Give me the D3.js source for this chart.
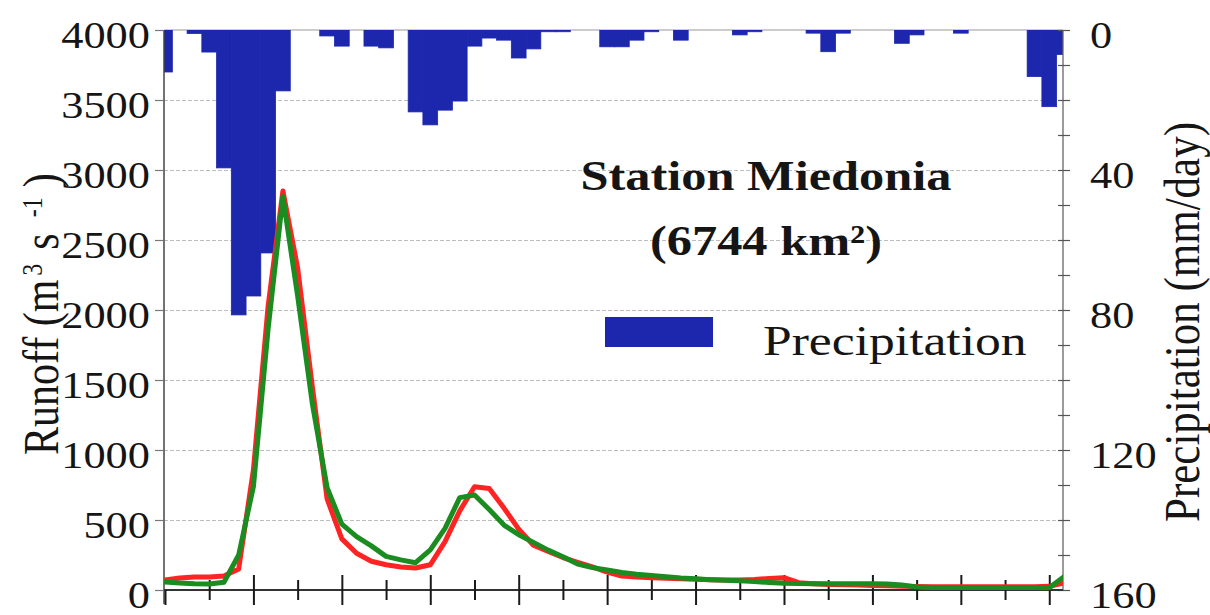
<!DOCTYPE html>
<html><head><meta charset="utf-8">
<script src="https://cdn.jsdelivr.net/npm/d3@7/dist/d3.min.js"></script>
<style>
body{margin:0;background:#fff}
svg{display:block}
text{font-family:"Liberation Serif","Times New Roman",serif;fill:#151515}
</style>
</head><body>
<svg id="chart" width="1210" height="615"></svg>
<script>
// ---------- data ----------
const days = [0,1,2,3,4,5,6,7,8,9,10,11,12,13,14,15,16,17,18,19,20,21,22,23,24,25,26,27,28,29,30,
  31,32,33,34,35,36,37,38,39,40,41,42,43,44,45,46,47,48,49,50,51,52,53,54,55,56,57,58,59,60,61];
const precipitation = [12,0,1,6.3,39.4,81.4,76,63.7,17.4,0,0,1.7,4.6,0,4.6,5.1,0,23.4,27.1,22.9,20.3,
  4.6,2.3,2.9,8,5.4,0.5,0.5,0,0,4.8,4.8,2.9,0.5,0,2.9,0,0,0,1.4,0.5,0,0,0,0.9,6.2,0.9,0,0,0,
  3.8,1.4,0,0,0.9,0,0,0,0,13.3,21.9,7];
const runoffObserved = [71,85,93,93,100,150,860,2030,2850,2300,1450,650,365,262,205,180,165,157,180,345,
  565,738,725,585,435,320,275,232,198,165,128,100,92,88,84,80,77,74,72,72,75,82,88,52,45,40,38,35,33,30,
  27,25,24,24,24,24,24,24,24,24,26,50];
const runoffSimulated = [57,50,45,43,55,250,740,1870,2810,2100,1330,730,470,381,315,240,215,195,286,440,
  660,679,575,464,395,340,285,238,185,160,143,125,112,104,95,86,80,74,69,66,60,54,48,46,44,44,44,44,44,43,
  35,22,18,18,18,18,18,18,18,18,16,95];
const runoffTicks = [0,500,1000,1500,2000,2500,3000,3500,4000];
const gridTicks = [500,1000,1500,2000,2500,3000,3500];
const precipLabelTicks = [0,40,80,120,160];
const precipMinorTicks = [0,10,20,30,40,50,60,70,80,90,100,110,120,130,140,150,160];
const dayTicks = [0,3,6,9,12,15,18,21,24,27,30,33,36,39,42,45,48,51,54,57,60];
const titleLines = ["Station Miedonia", "(6744 km²)"];
const legendLabel = "Precipitation";

// ---------- layout ----------
const svg = d3.select("#chart");
const L = 164, R = 1063, T = 30, B = 590;
const SX = 1.2; // horizontal stretch of the original figure's lettering
const x = d3.scaleLinear().domain([0, 61]).range([165, 1064]);
const yL = d3.scaleLinear().domain([0, 4000]).range([B, T]);
const yR = d3.scaleLinear().domain([0, 160]).range([T, B]);

const barColor = "#1c27ae";
const redColor = "#ff2424";
const greenColor = "#1b8c1f";
const serif = '"Liberation Serif","Times New Roman",serif';

svg.append("rect").attr("width",1210).attr("height",615).attr("fill","#fff");

svg.append("defs").append("clipPath").attr("id","plotclip")
  .append("rect").attr("x",L).attr("y",T).attr("width",R-L).attr("height",B-T+4);

// gridlines
const grid = svg.append("g").attr("transform",`translate(${L},0)`)
  .call(d3.axisLeft(yL).tickValues(gridTicks).tickSize(-(R-L)).tickFormat(""));
grid.select(".domain").remove();
grid.selectAll("line").attr("stroke","#bdbdbd").attr("stroke-width",1).attr("stroke-dasharray","4,2");

// top border
svg.append("line").attr("x1",L).attr("x2",R).attr("y1",T).attr("y2",T)
  .attr("stroke","#9a9a9a").attr("stroke-width",1.2);

// precipitation bars
svg.append("g").attr("clip-path","url(#plotclip)")
  .selectAll("rect").data(days.filter((d,i)=>precipitation[i]>0)).join("rect")
  .attr("x", d => x(d-0.5))
  .attr("width", d => x(d+0.5)-x(d-0.5))
  .attr("y", yR(0))
  .attr("height", d => yR(precipitation[d]) - yR(0))
  .attr("fill", barColor).attr("stroke", barColor).attr("stroke-width", 0.8);

// right axis line and ticks
svg.append("line").attr("x1",R).attr("x2",R).attr("y1",T).attr("y2",B)
  .attr("stroke","#666").attr("stroke-width",1.3);
const rAxis = svg.append("g").attr("transform",`translate(${R},0)`)
  .call(d3.axisRight(yR).tickValues(precipMinorTicks).tickSize(7).tickFormat(""));
rAxis.select(".domain").remove();
rAxis.selectAll("line").attr("x1",-5).attr("stroke","#555").attr("stroke-width",1.2);
const rLab = svg.append("g").attr("transform",`translate(${R},0)`)
  .call(d3.axisRight(yR).tickValues(precipLabelTicks).tickSize(0).tickPadding(0).tickFormat(d3.format("d")));
rLab.select(".domain").remove();
rLab.selectAll("text")
  .attr("x",0).attr("dy",null)
  .attr("transform", `translate(27,5) scale(${SX},1)`)
  .attr("dominant-baseline","central")
  .style("font-size","37px").style("font-family",serif).attr("fill","#151515");

// left axis
const lAxis = svg.append("g").attr("transform",`translate(${L},0)`)
  .call(d3.axisLeft(yL).tickValues(runoffTicks).tickSize(9).tickPadding(0).tickFormat(d3.format("d")));
lAxis.select(".domain").attr("stroke","#444").attr("stroke-width",1.5).attr("d",`M0,${T}V${B+14}`);
lAxis.selectAll("line").attr("stroke","#777").attr("stroke-width",1.2);
lAxis.selectAll("text")
  .attr("x",0).attr("dy",null)
  .attr("transform", `translate(-14,5) scale(${SX},1)`)
  .attr("dominant-baseline","central")
  .style("font-size","37px").style("font-family",serif).attr("fill","#151515");

// bottom axis
const bAxis = svg.append("g").attr("transform",`translate(0,${B})`)
  .call(d3.axisBottom(x).tickValues(dayTicks).tickSize(15).tickFormat(""));
bAxis.select(".domain").attr("stroke","#333").attr("stroke-width",2).attr("d",`M${L},0H${R}`);
bAxis.selectAll(".tick line")
  .attr("y1", d => d===0 ? 0 : (d%6===0 ? -15 : -10))
  .attr("y2", d => d%6===0 ? 15 : 10)
  .attr("stroke","#1a1a1a").attr("stroke-width",2);

// runoff lines
const line = (arr) => d3.line().x(d => x(d)).y(d => yL(arr[d]))(days);
const lines = svg.append("g").attr("clip-path","url(#plotclip)");
lines.append("path").attr("d", line(runoffObserved)).attr("fill","none")
  .attr("stroke", redColor).attr("stroke-width",5).attr("stroke-linejoin","round").attr("stroke-linecap","round");
lines.append("path").attr("d", line(runoffSimulated)).attr("fill","none")
  .attr("stroke", greenColor).attr("stroke-width",5).attr("stroke-linejoin","round").attr("stroke-linecap","round");

// title
const title = svg.append("g");
title.append("text").attr("transform",`translate(766,190) scale(${SX},1)`)
  .attr("text-anchor","middle").style("font-size","42px").style("font-weight","bold").text(titleLines[0]);
title.append("text").attr("transform",`translate(766,255) scale(${SX},1)`)
  .attr("text-anchor","middle").style("font-size","42px").style("font-weight","bold").text(titleLines[1]);

// legend
svg.append("rect").attr("x",605).attr("y",317).attr("width",108).attr("height",30).attr("fill",barColor);
svg.append("text").attr("transform",`translate(763,355) scale(${SX},1)`)
  .style("font-size","43px").text(legendLabel);

// axis titles
const lt = svg.append("text").attr("transform",`translate(58,455) scale(${SX},1) rotate(-90)`)
  .attr("text-anchor","start").style("font-size","42px");
lt.append("tspan").text("Runoff (m");
lt.append("tspan").attr("dx",4).attr("baseline-shift","super").style("font-size","24px").text("3");
lt.append("tspan").attr("dx",14).text("s");
lt.append("tspan").attr("dx",16).attr("baseline-shift","super").style("font-size","24px").text("-1");
lt.append("tspan").attr("dx",10).text(")");

svg.append("text").attr("transform",`translate(1199,322) scale(${SX},1) rotate(-90)`)
  .attr("text-anchor","middle").style("font-size","43px").text("Precipitation (mm/day)");
</script>
</body></html>
